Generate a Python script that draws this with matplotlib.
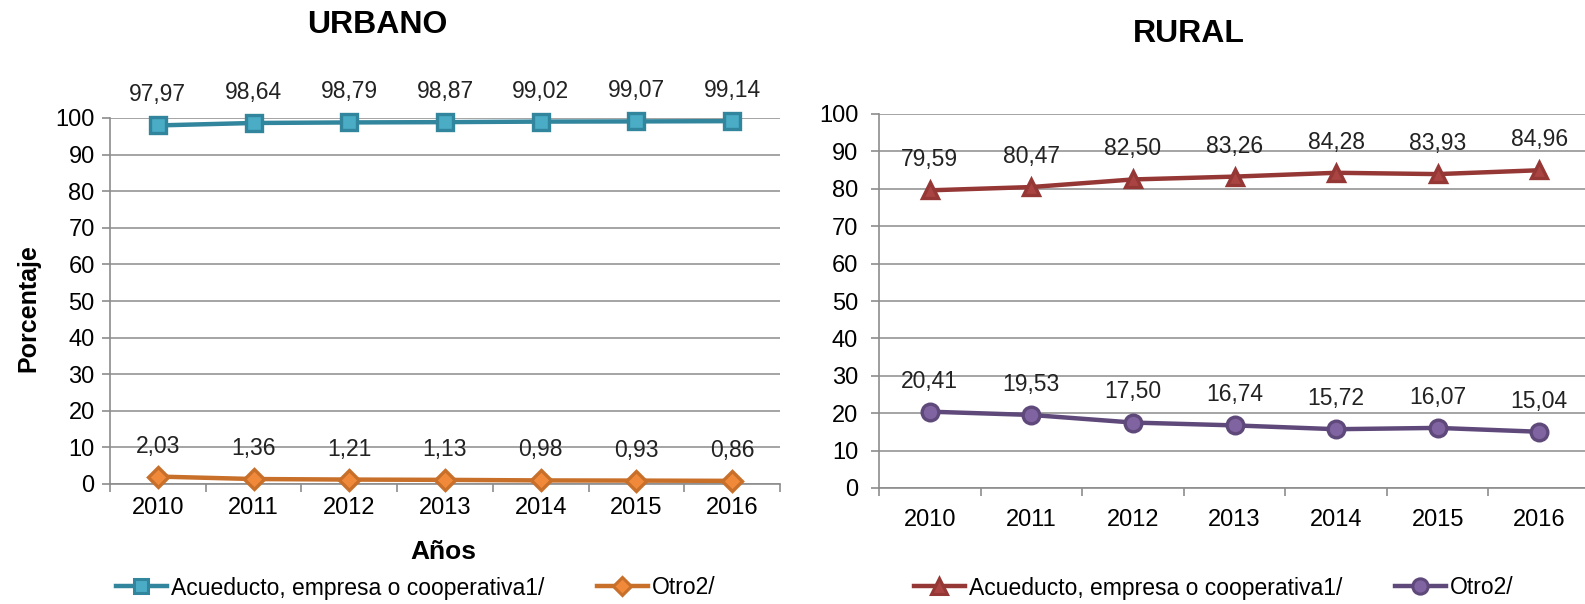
import matplotlib
matplotlib.use("Agg")
import matplotlib.pyplot as plt
from matplotlib.ticker import MultipleLocator, FixedLocator
from matplotlib.lines import Line2D

plt.rcParams['font.family'] = ['Liberation Sans', 'DejaVu Sans']

years = ["2010", "2011", "2012", "2013", "2014", "2015", "2016"]
urbano_acueducto = [97.97, 98.64, 98.79, 98.87, 99.02, 99.07, 99.14]
urbano_otro = [2.03, 1.36, 1.21, 1.13, 0.98, 0.93, 0.86]
rural_acueducto = [79.59, 80.47, 82.50, 83.26, 84.28, 83.93, 84.96]
rural_otro = [20.41, 19.53, 17.50, 16.74, 15.72, 16.07, 15.04]

label_acueducto = "Acueducto, empresa o cooperativa1/"
label_otro = "Otro2/"

teal_line, teal_face = "#31859C", "#4BACC6"
orange_line, orange_face = "#C86F2A", "#F08A3A"
red_line, red_face = "#953735", "#A94442"
purple_line, purple_face = "#5F497A", "#8064A2"

W, H = 1585, 604
fig = plt.figure(figsize=(W / 100, H / 100), dpi=100)

def px_axes(x0, y_top, x1, y_bot):
    return fig.add_axes([x0 / W, 1 - y_bot / H, (x1 - x0) / W, (y_bot - y_top) / H])

grid_col = "#8C8C8C"

def style_axes(ax, xpad, ypad):
    ax.set_xlim(-0.5, len(years) - 0.5)
    ax.set_ylim(0, 100)
    ax.yaxis.set_major_locator(MultipleLocator(10))
    ax.set_xticks(range(len(years)))
    ax.set_xticklabels(years)
    ax.xaxis.set_minor_locator(FixedLocator([i - 0.5 for i in range(len(years) + 1)]))
    ax.tick_params(axis='x', which='major', length=0, labelsize=17, pad=xpad)
    ax.tick_params(axis='x', which='minor', length=6, color=grid_col, width=1.2, direction='out')
    ax.tick_params(axis='y', which='major', length=6, color=grid_col, width=1.2, labelsize=17, pad=ypad)
    ax.grid(axis='y', color=grid_col, linewidth=1.1)
    ax.set_axisbelow(True)
    for s in ("top", "right"):
        ax.spines[s].set_visible(False)
    for s in ("left", "bottom"):
        ax.spines[s].set_color(grid_col)
        ax.spines[s].set_linewidth(1.2)

def fmt(v):
    return f"{v:.2f}".replace(".", ",")

def series(ax, vals, lc, fc, marker, ms):
    x = list(range(len(vals)))
    ax.plot(x, vals, color=lc, lw=3.2, marker=marker, ms=ms, mfc=fc, mec=lc, mew=2.4,
            solid_capstyle='round', zorder=3, clip_on=False)
    for xi, v in zip(x, vals):
        ax.annotate(fmt(v), (xi, v), xytext=(0, 22), textcoords='offset points',
                    ha='center', va='center', fontsize=16.5, color="#222222")

# Urbano
ax1 = px_axes(110, 118, 780, 484)
style_axes(ax1, 9, 5)
series(ax1, urbano_acueducto, teal_line, teal_face, 's', 11)
series(ax1, urbano_otro, orange_line, orange_face, 'D', 10)
fig.text(28 / W, 1 - 308 / H, "Porcentaje", rotation=90, ha='center', va='center',
         fontsize=18, fontweight='bold')
fig.text(443 / W, 1 - 552 / H, "Años", ha='center', va='center', fontsize=19, fontweight='bold')
fig.text(377 / W, 1 - 25 / H, "URBANO", ha='center', va='center', fontsize=23, fontweight='bold')

# Rural
ax2 = px_axes(879, 114, 1590, 488)
style_axes(ax2, 15, 9)
series(ax2, rural_acueducto, red_line, red_face, '^', 12)
series(ax2, rural_otro, purple_line, purple_face, 'o', 12)
fig.text(1189 / W, 1 - 34 / H, "RURAL", ha='center', va='center', fontsize=23, fontweight='bold')

def legend(items, x_center):
    handles = [Line2D([], [], color=lc, lw=3.2, marker=m, ms=ms, mfc=fc, mec=lc, mew=2.2)
               for lc, fc, m, ms in items]
    fig.legend(handles, [label_acueducto, label_otro], loc='center',
               bbox_to_anchor=(x_center / W, 1 - 588 / H), ncol=2, frameon=False,
               fontsize=16.5, handlelength=2.2, handletextpad=0.2, columnspacing=2.3)

legend([(teal_line, teal_face, 's', 10), (orange_line, orange_face, 'D', 9)], 416)
legend([(red_line, red_face, '^', 11), (purple_line, purple_face, 'o', 11)], 1214)

fig.savefig("out.png", dpi=100)
